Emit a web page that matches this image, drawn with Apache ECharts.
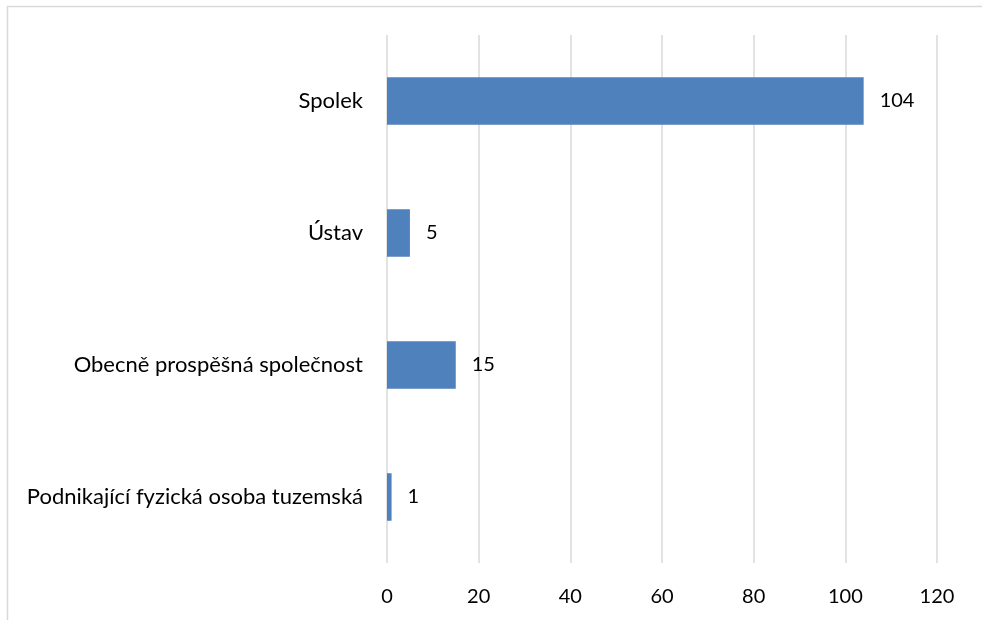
<!DOCTYPE html>
<html>
<head>
<meta charset="utf-8">
<script src="https://cdn.jsdelivr.net/npm/echarts@6/dist/echarts.min.js"></script>
<style>
  html, body { margin: 0; padding: 0; background: #fff; }
  #chart { width: 982px; height: 620px; }
</style>
</head>
<body>
<div id="chart"></div>
<script>
const categories = [
  "Spolek",
  "Ústav",
  "Obecně prospěšná společnost",
  "Podnikající fyzická osoba tuzemská",
];
const counts = [104, 5, 15, 1];
const axisMin = 0;
const axisMax = 120;
const axisStep = 20;

const font = "Lato, 'Open Sans', sans-serif";
const chart = echarts.init(document.getElementById("chart"), null, { renderer: "canvas" });

chart.setOption({
  animation: false,
  backgroundColor: "#ffffff",
  graphic: [{
    type: "rect",
    shape: { x: 7.5, y: 6.5, width: 1000, height: 700 },
    style: { fill: "none", stroke: "#d9d9d9", lineWidth: 1.5 },
    silent: true,
  }],
  grid: { left: 387, right: 45, top: 35, bottom: 57 },
  xAxis: {
    type: "value",
    min: axisMin,
    max: axisMax,
    interval: axisStep,
    axisLine: { show: false },
    axisTick: { show: false },
    axisLabel: { color: "#000", fontSize: 20, fontFamily: font, margin: 24 },
    splitLine: { show: true, lineStyle: { color: "#d9d9d9", width: 1.5 } },
  },
  yAxis: {
    type: "category",
    inverse: true,
    data: categories,
    axisLine: { show: false },
    axisTick: { show: false },
    axisLabel: { color: "#000", fontSize: 22, fontFamily: font, margin: 24 },
  },
  series: [{
    type: "bar",
    data: counts,
    barWidth: "36%",
    itemStyle: { color: "#4f81bd" },
    label: {
      show: true,
      position: "right",
      distance: 16,
      color: "#000",
      fontSize: 20,
      fontFamily: font,
    },
  }],
});
</script>
</body>
</html>
